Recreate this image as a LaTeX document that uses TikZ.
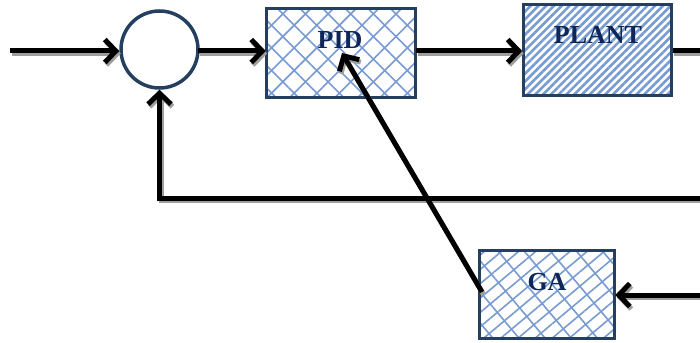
\documentclass[tikz,border=0pt]{standalone}
\usepackage{fontspec}
\setmainfont{Liberation Serif}
\usetikzlibrary{arrows.meta,patterns.meta}
\definecolor{edge}{RGB}{36,63,96}
\definecolor{ink}{RGB}{15,38,88}
\definecolor{hatch}{RGB}{120,155,210}
\tikzset{
  box/.style={draw=edge, line width=3.5pt, inner sep=0pt},
  cross/.style={pattern={Lines[angle=45,distance=16pt,line width=1.6pt]}, pattern color=hatch,
     preaction={pattern={Lines[angle=-45,distance=16pt,line width=1.6pt]}, pattern color=hatch}},
  stripes/.style={pattern={Lines[angle=45,distance=5.5pt,line width=2.6pt]}, pattern color=hatch},
  brick/.style={pattern={Lines[angle=40,distance=11pt,line width=1.6pt]}, pattern color=hatch,
     preaction={pattern={Lines[angle=-50,distance=20pt,line width=1.6pt]}, pattern color=hatch}},
  lbl/.style={font=\bfseries\fontsize{26}{26}\selectfont, text=ink, inner sep=0pt},
  wire/.style={line width=5pt},
  arr/.style={wire, -{Straight Barb[length=11pt,width=23pt]}},
}
\newcommand\myconnectors{%
  \draw[arr] (in) -- (in -| sum.west);
  \draw[arr] (sumr) -- (sumr -| pid.west);
  \draw[arr] (pid.east |- sumr) -- (sumr -| plant.west);
  \draw[wire] (plant.east |- out) -- (out);
  \draw[arr] (fb) -- (fb -| sum.south) -- (sum.south);
  \draw[arr] (gain) -- (gain -| ga.east);
  \draw[arr] (gaout) -- (pidin);
}
\begin{document}
\begin{tikzpicture}[x=1pt,y=-1pt]
\useasboundingbox (0,0) rectangle (700,342);
\node[circle, draw=edge, line width=3.5pt, minimum size=77pt, inner sep=0pt] (sum) at (159.5,49.5) {};
\node[box, cross, minimum width=149pt, minimum height=89pt] (pid) at (341,53) {};
\node[lbl] (pidl) at (340,40) {PID};
\node[box, stripes, minimum width=148pt, minimum height=91pt] (plant) at (597.5,50) {};
\node[lbl] (plantl) at (598,35) {PLANT};
\node[box, brick, minimum width=135pt, minimum height=88pt] (ga) at (547,294.5) {};
\node[lbl] (gal) at (547,282) {GA};

\coordinate (in) at (10,51);
\coordinate (sumr) at (198,51);
\coordinate (out) at (700,51);
\coordinate (fb) at (700,198);
\coordinate (gain) at (700,295);
\coordinate (gaout) at (482,292);
\coordinate (pidin) at (342,53);

\begin{scope}[transform canvas={shift={(1.5pt,-2.5pt)}}, draw=black!38]
  \myconnectors
\end{scope}
\myconnectors
\end{tikzpicture}
\end{document}
